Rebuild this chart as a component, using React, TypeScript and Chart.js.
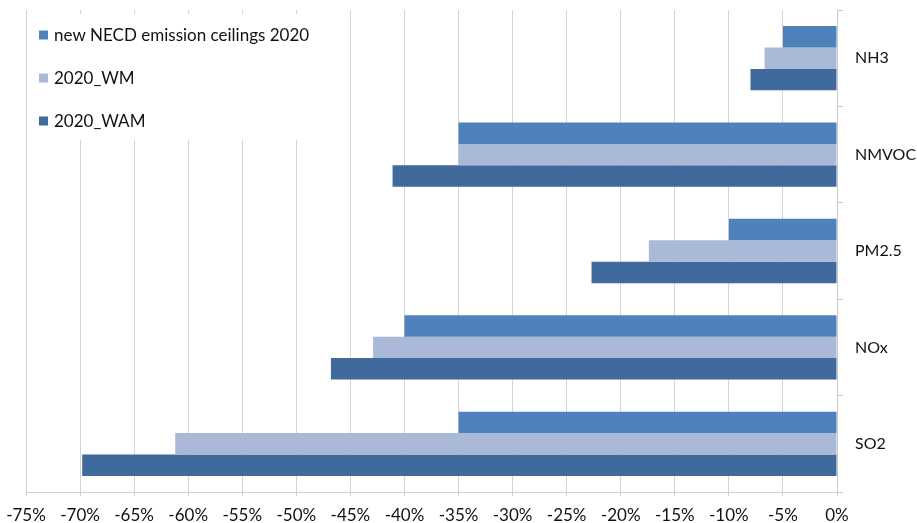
import React, { useEffect, useRef } from 'react';
import { Chart, registerables } from 'chart.js';

Chart.register(...registerables);

const categories = ['NH3', 'NMVOC', 'PM2.5', 'NOx', 'SO2'];
const seriesNames = ['new NECD emission ceilings 2020', '2020_WM', '2020_WAM'];
const necdValues = [-5, -35, -10, -40, -35];
const wmValues = [-6.7, -35, -17.4, -42.9, -61.2];
const wamValues = [-8, -41.1, -22.7, -46.8, -69.8];
const seriesColors = ['#4f81bd', '#aab9d8', '#3f6a9b'];
const xMin = -75;
const xMax = 0;
const xStep = 5;

const FONT = 'Lato, "Open Sans", sans-serif';

const insideLegend = {
  id: 'insideLegend',
  beforeDatasetsDraw(chart: any) {
    const ctx = chart.ctx as CanvasRenderingContext2D;
    ctx.save();
    ctx.fillStyle = '#ffffff';
    ctx.fillRect(28, 14, 306, 126);
    chart.data.datasets.forEach((ds: any, i: number) => {
      const y = 35 + i * 43;
      ctx.fillStyle = ds.backgroundColor;
      ctx.fillRect(39, y - 4.5, 9, 9);
      ctx.fillStyle = '#111';
      ctx.font = '17px ' + FONT;
      ctx.textBaseline = 'middle';
      ctx.textAlign = 'left';
      ctx.fillText(ds.label, 54, y + 1);
    });
    ctx.restore();
  },
};

export default function App() {
  const ref = useRef<HTMLCanvasElement | null>(null);

  useEffect(() => {
    if (!ref.current) return;
    const seriesValues = [necdValues, wmValues, wamValues];
    const chart = new Chart(ref.current, {
      type: 'bar',
      data: {
        labels: categories,
        datasets: seriesNames.map((name, i) => ({
          label: name,
          data: seriesValues[i],
          backgroundColor: seriesColors[i],
          borderWidth: 0,
          categoryPercentage: 0.667,
          barPercentage: 1,
        })),
      },
      options: {
        indexAxis: 'y',
        animation: false,
        responsive: false,
        maintainAspectRatio: false,
        layout: { padding: { left: 26, top: 10, right: 0, bottom: 0 } },
        plugins: {
          legend: { display: false },
          tooltip: { enabled: false },
        },
        scales: {
          x: {
            min: xMin,
            max: xMax,
            border: { color: '#d0d0d0', width: 1 },
            grid: {
              color: '#d4d4d4',
              lineWidth: 1,
              tickLength: 4,
              drawTicks: true,
            },
            ticks: {
              stepSize: xStep,
              padding: 9,
              color: '#111',
              font: { family: FONT, size: 17 },
              maxRotation: 0,
              autoSkip: false,
              callback: (v: any) => `${v}%`,
            },
            afterFit: (scale: any) => {
              scale.height = 31;
              scale.paddingLeft = 0;
              scale.paddingRight = 0;
            },
          },
          y: {
            position: 'right',
            border: { color: '#c8c8c8', width: 1 },
            grid: {
              drawOnChartArea: false,
              drawTicks: true,
              tickLength: 6,
              color: '#c8c8c8',
              offset: true,
            },
            ticks: {
              padding: 12,
              color: '#111',
              font: { family: FONT, size: 16 },
            },
            afterFit: (scale: any) => {
              scale.width = 80;
              scale.paddingTop = 0;
              scale.paddingBottom = 0;
            },
          },
        },
      },
      plugins: [insideLegend],
    });
    return () => chart.destroy();
  }, []);

  return (
    <div style={{ position: 'fixed', left: 0, top: 0, width: 917, height: 523, background: '#fff' }}>
      <canvas ref={ref} width={917} height={523} style={{ width: 917, height: 523, display: 'block' }} />
    </div>
  );
}
